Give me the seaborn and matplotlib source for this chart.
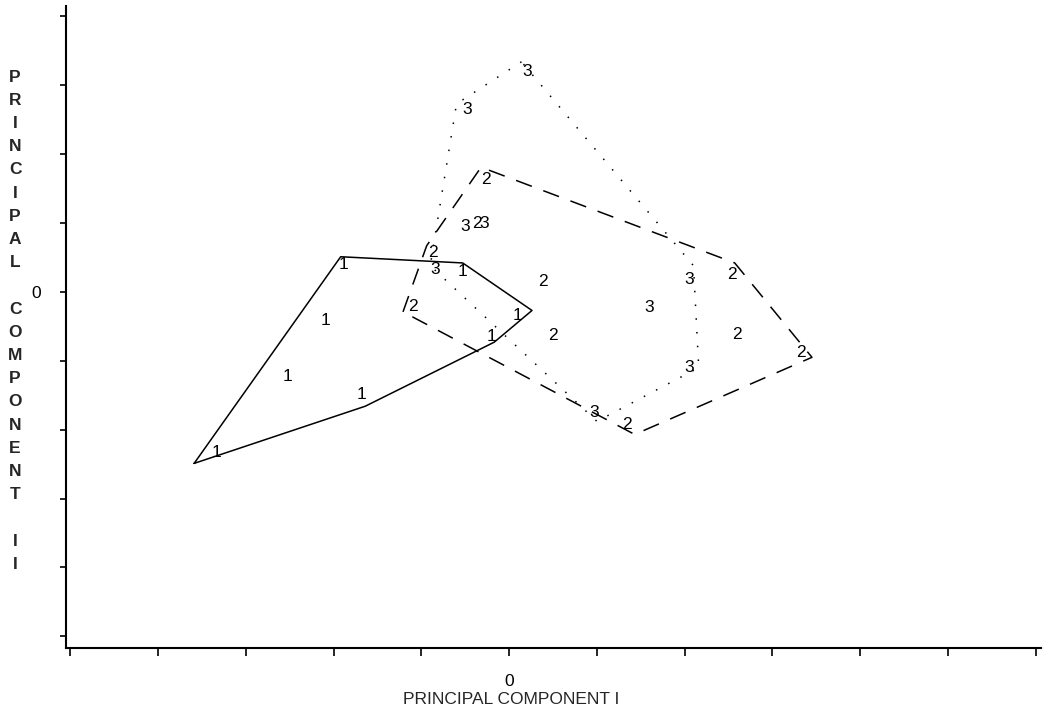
import matplotlib
matplotlib.use("Agg")
import matplotlib.pyplot as plt
import seaborn as sns
import pandas as pd

# Principal component scores, one digit per observation (group label)
g1_x = [-3.34, -1.89, -0.53, -2.09, -2.53, -1.68, 0.09, -0.20]
g1_y = [-2.33, 0.40, 0.29, -0.42, -1.23, -1.49, -0.34, -0.65]

g2_x = [-0.27, -0.87, -0.37, 0.38, -1.10, 0.50, 2.54, 2.60, 3.33, 1.34]
g2_y = [1.63, 0.57, 0.99, 0.15, -0.21, -0.63, 0.25, -0.62, -0.88, -1.92]

g3_x = [0.21, -0.48, -0.50, -0.28, -0.84, 2.05, 1.60, 2.05, 0.97]
g3_y = [3.20, 2.65, 0.95, 0.99, 0.32, 0.18, -0.23, -1.10, -1.75]

# Outline of each group's region
hull1_x = [-3.59, -1.92, -0.53, 0.26, -0.17, -1.64]
hull1_y = [-2.49, 0.51, 0.42, -0.27, -0.73, -1.66]

hull2_x = [-1.21, -0.94, -0.32, 2.57, 3.45, 1.43]
hull2_y = [-0.29, 0.67, 1.81, 0.42, -0.95, -2.07]

hull3_x = [0.14, -0.60, -0.90, 1.00, 2.16, 2.10]
hull3_y = [3.34, 2.73, 0.38, -1.88, -1.10, 0.38]

x_ticks = list(range(-5, 7))
y_ticks = list(range(-5, 5))
x_title = "PRINCIPAL COMPONENT I"
y_title = ["PRINCIPAL", "COMPONENT", "II"]

sns.set_style("ticks")
plt.rcParams["font.family"] = ["Liberation Sans", "DejaVu Sans"]

W, H = 1046, 715
fig = plt.figure(figsize=(W / 100, H / 100), dpi=100)
ax = fig.add_axes([66 / W, 1 - 648 / H, (1041 - 66) / W, (648 - 6) / H])

groups = [
    ("1", g1_x, g1_y, hull1_x, hull1_y, "-"),
    ("2", g2_x, g2_y, hull2_x, hull2_y, (0, (11, 8))),
    ("3", g3_x, g3_y, hull3_x, hull3_y, (0, (1, 8))),
]

for label, px, py, hx, hy, ls in groups:
    outline = pd.DataFrame({"x": hx + hx[:1], "y": hy + hy[:1]})
    sns.lineplot(data=outline, x="x", y="y", sort=False, estimator=None,
                 color="black", linewidth=1.1, linestyle=ls, ax=ax)
    for xv, yv in zip(px, py):
        ax.text(xv, yv, label, ha="center", va="center", fontsize=12.5,
                color="black")

ax.set_xlim(-5.05, 6.06)
ax.set_ylim(-5.17, 4.15)
ax.set_xticks(x_ticks)
ax.set_xticklabels(["0" if t == 0 else "" for t in x_ticks])
ax.set_yticks(y_ticks)
ax.set_yticklabels(["0" if t == 0 else "" for t in y_ticks])
ax.tick_params(axis="x", direction="out", length=6, width=1.2, pad=13,
               labelsize=12.5, colors="black")
ax.tick_params(axis="y", direction="out", length=4, width=1.2, pad=14,
               labelsize=12.5, colors="black")
ax.set_xlabel("")
ax.set_ylabel("")
sns.despine(ax=ax)
for side in ("left", "bottom"):
    ax.spines[side].set_linewidth(1.5)
    ax.spines[side].set_color("black")

fig.text(511 / W, 1 - 700 / H, x_title, ha="center", va="center",
         fontsize=12.5)

# Vertical title, one letter per line, a blank line between words
letters = []
for k, word in enumerate(y_title):
    if k:
        letters.append("")
    letters.extend(word)
y0, step = 77, 23.2
for i, ch in enumerate(letters):
    if ch:
        fig.text(15 / W, 1 - (y0 + i * step) / H, ch, ha="center",
                 va="center", fontsize=12.5, fontweight="bold")

fig.savefig("out.png", dpi=100)
